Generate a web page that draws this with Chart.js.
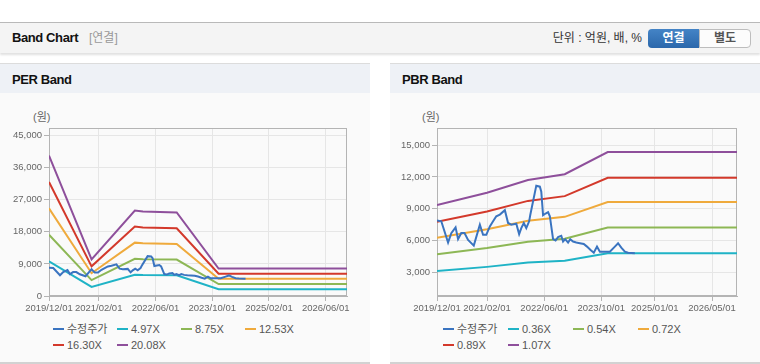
<!DOCTYPE html>
<html lang="ko">
<head>
    <meta charset="UTF-8">
    <title>Band Chart</title>
    <style>
        body {
            margin: 0;
            width: 760px;
            height: 364px;
            position: relative;
            overflow: hidden;
            background: #fff;
            font-family: "Liberation Sans", Arial, "Noto Sans CJK KR", sans-serif;
        }

        #top {
            position: absolute;
            left: 0;
            top: 22px;
            width: 760px;
            height: 30px;
            border-top: 1px solid #b9b9b9;
            background: #f4f4f4;
            box-shadow: 0 2px 2px rgba(0,0,0,0.12);
        }

        #top .title {
            position: absolute;
            left: 12px;
            top: 7px;
            line-height: 16px;
            font-size: 13px;
            font-weight: bold;
            letter-spacing: -0.4px;
            color: #111;
        }

        #top .sub {
            position: absolute;
            left: 89px;
            top: 8px;
            line-height: 15px;
            font-size: 12px;
            color: #999;
        }

        #top .unit {
            position: absolute;
            right: 118px;
            top: 8px;
            line-height: 15px;
            font-size: 12px;
            color: #333;
        }

        .btn {
            position: absolute;
            top: 6px;
            height: 19px;
            line-height: 19px;
            text-align: center;
            font-size: 12px;
            font-weight: bold;
            box-sizing: border-box;
        }

        #btnA {
            left: 648px;
            width: 51px;
            color: #fff;
            background: linear-gradient(#4484c6, #2b67ab);
            border-radius: 4px 0 0 4px;
        }

        #btnB {
            left: 699px;
            width: 52px;
            color: #555;
            background: #fcfcfc;
            border: 1px solid #bdbdbd;
            line-height: 17px;
            border-radius: 0 4px 4px 0;
        }

        .panel {
            position: absolute;
            top: 63px;
            width: 370px;
            height: 301px;
            box-sizing: border-box;
            background: #fafafa;
            border-top: 1px solid #dcdcdc;
            border-bottom: 2px solid #d2d2d2;
        }

        .ptitle {
            height: 29px;
            line-height: 31px;
            padding-left: 12px;
            background: #eef1f6;
            font-size: 13px;
            font-weight: bold;
            letter-spacing: -0.4px;
            color: #111;
        }

        .won {
            position: absolute;
            top: 47px;
            line-height: 13px;
            font-size: 11px;
            color: #666;
        }

        .wrap {
            position: absolute;
            left: 0;
            top: 36px;
            width: 370px;
            height: 220px;
        }

        .legend {
            position: absolute;
            left: 53px;
            top: 257px;
            font-size: 11px;
            line-height: 16px;
            color: #555;
        }

        .legend span {
            display: inline-block;
            white-space: nowrap;
        }

        .legend i {
            display: inline-block;
            width: 11px;
            height: 2px;
            margin-right: 3px;
            vertical-align: middle;
            position: relative;
            top: -1px;
        }
    </style>
    <script src="https://cdn.jsdelivr.net/npm/chart.js@4"></script>
</head>
<body>
    <div id="top">
        <span class="title">Band Chart</span>
        <span class="sub">[연결]</span>
        <span class="unit">단위 : 억원, 배, %</span>
        <span class="btn" id="btnA">연결</span>
        <span class="btn" id="btnB">별도</span>
    </div>

    <div class="panel" style="left:0">
        <div class="ptitle">PER Band</div>
        <span class="won" style="left:33px">(원)</span>
        <div class="wrap"><canvas id="perChart"></canvas></div>
        <div class="legend" id="perLegend"></div>
    </div>

    <div class="panel" style="left:390px">
        <div class="ptitle">PBR Band</div>
        <span class="won" style="left:32px">(원)</span>
        <div class="wrap"><canvas id="pbrChart"></canvas></div>
        <div class="legend" id="pbrLegend"></div>
    </div>

    <script>
        // 수정주가 (두 차트 공통)
        const priceDates = [
            '2019/12/01', '2020/01/07', '2020/03/04', '2020/04/01', '2020/05/07', '2020/05/28',
            '2020/06/25', '2020/07/22', '2020/08/22', '2020/10/10', '2020/12/01', '2020/12/28',
            '2021/01/25', '2021/02/25', '2021/03/22', '2021/04/19', '2021/05/19', '2021/07/01',
            '2021/07/28', '2021/08/25', '2021/10/07', '2021/11/01', '2021/11/19', '2021/12/10',
            '2022/01/01', '2022/01/25', '2022/02/04', '2022/03/25', '2022/04/25', '2022/05/07',
            '2022/05/22', '2022/06/13', '2022/07/04', '2022/07/19', '2022/08/16', '2022/09/07',
            '2022/09/28', '2022/10/25', '2022/11/10', '2022/11/28', '2022/12/22', '2023/01/10',
            '2023/02/04', '2023/03/01', '2023/04/01', '2023/05/04', '2023/06/01', '2023/07/01',
            '2023/07/28', '2023/08/25', '2023/09/19', '2023/12/13', '2024/01/25', '2024/02/22',
            '2024/03/19', '2024/04/19', '2024/05/16', '2024/07/13'
        ];
        const priceValues = [
            7900, 7825, 5825, 6714, 7254, 6143,
            6714, 6714, 6079, 5539, 7508, 6555,
            6555, 7349, 7825, 8302, 8460, 8873,
            7667, 7508, 7603, 6619, 7190, 7667,
            7190, 7825, 8396, 11176, 11082, 10607,
            8396, 8555, 8683, 8302, 6143, 6016,
            6333, 6460, 5920, 6143, 5825, 6143,
            5920, 5825, 5762, 5698, 5444, 5127,
            4873, 5444, 4968, 4968, 5444, 5762,
            5349, 4968, 4873, 4810
        ];

        // PER 밴드
        const perLabels = ['수정주가', '4.97X', '8.75X', '12.53X', '16.30X', '20.08X'];
        const perDates = ['2019/12/01', '2020/12/01', '2021/12/07', '2022/02/15', '2022/12/01', '2023/11/25', '2026/12/01'];
        const per497 = [9746, 2535, 5934, 5865, 5795, 1908, 1908];
        const per875 = [17159, 4463, 10448, 10325, 10203, 3360, 3360];
        const per1253 = [24571, 6390, 14961, 14785, 14610, 4812, 4812];
        const per1630 = [31964, 8313, 19462, 19234, 19006, 6259, 6259];
        const per2008 = [39377, 10241, 23976, 23694, 23413, 7711, 7711];
        const perXTicks = ['2019/12/01', '2021/02/01', '2022/06/01', '2023/10/01', '2025/02/01', '2026/06/01'];
        const perYTicks = [0, 9000, 18000, 27000, 36000, 45000];

        // PBR 밴드
        const pbrLabels = ['수정주가', '0.36X', '0.54X', '0.72X', '0.89X', '1.07X'];
        const pbrDates = ['2019/12/01', '2021/02/01', '2022/01/15', '2022/11/24', '2023/11/25', '2026/12/01'];
        const pbr036 = [3144, 3539, 3941, 4122, 4823, 4823];
        const pbr054 = [4716, 5308, 5912, 6183, 7235, 7235];
        const pbr072 = [6288, 7078, 7883, 8244, 9647, 9647];
        const pbr089 = [7772, 8749, 9744, 10191, 11924, 11924];
        const pbr107 = [9344, 10518, 11714, 12252, 14336, 14336];
        const pbrXTicks = ['2019/12/01', '2021/02/01', '2022/06/01', '2023/10/01', '2025/01/01', '2026/05/01'];
        const pbrYTicks = [3000, 6000, 9000, 12000, 15000];

        const lineColors = ['#3a74c0', '#1fb3c6', '#8db755', '#efaa3c', '#d3392b', '#8e4f9b'];

        Chart.defaults.font.family = '"Liberation Sans", Arial, sans-serif';
        Chart.defaults.font.size = 9.5;
        Chart.defaults.color = '#666';

        // 2019/12/01 기준 개월 수
        const toMonth = s => {
            const [y, m, d] = s.split('/').map(Number);
            return (y - 2019) * 12 + (m - 12) + (d - 1) / 30;
        };

        // 플롯 영역 테두리
        const frame = {
            id: 'frame',
            beforeDatasetsDraw(chart) {
                const { ctx, chartArea: a } = chart;
                ctx.save();
                ctx.strokeStyle = '#b4b4b4';
                ctx.lineWidth = 1;
                ctx.strokeRect(Math.round(a.left) + 0.5, Math.round(a.top) + 0.5,
                    Math.round(a.right - a.left) - 1, Math.round(a.bottom - a.top) - 1);
                ctx.restore();
            }
        };

        function makeBandChart(id, legendId, opt) {
            const datasets = opt.series.map((vals, i) => {
                const dates = i === 0 ? priceDates : opt.bandDates;
                return {
                    label: opt.labels[i],
                    data: vals.map((v, k) => ({ x: toMonth(dates[k]), y: v })),
                    borderColor: lineColors[i],
                    backgroundColor: lineColors[i],
                    borderWidth: 2,
                    pointRadius: 0,
                    tension: 0,
                    fill: false
                };
            });

            new Chart(document.getElementById(id), {
                type: 'line',
                data: { datasets },
                options: {
                    animation: false,
                    responsive: true,
                    maintainAspectRatio: false,
                    layout: { padding: { left: 0, top: 28, right: 23, bottom: 0 } },
                    plugins: {
                        legend: { display: false },
                        tooltip: { enabled: false }
                    },
                    scales: {
                        x: {
                            type: 'linear',
                            min: 0,
                            max: 84,
                            afterBuildTicks: axis => {
                                axis.ticks = opt.xTicks.map(d => ({ value: toMonth(d) }));
                            },
                            afterFit: axis => { axis.height = 24; },
                            ticks: {
                                autoSkip: false,
                                maxRotation: 0,
                                padding: 2,
                                callback: (v, i) => opt.xTicks[i]
                            },
                            grid: { color: '#e6e6e6', tickColor: '#b4b4b4', tickLength: 5 },
                            border: { color: '#b4b4b4' }
                        },
                        y: {
                            min: opt.yMin,
                            max: opt.yMax,
                            afterBuildTicks: axis => {
                                axis.ticks = opt.yTicks.map(v => ({ value: v }));
                            },
                            afterFit: axis => { axis.width = opt.yWidth; },
                            ticks: {
                                padding: 2,
                                callback: v => v.toLocaleString('en-US')
                            },
                            grid: { color: '#e6e6e6', tickColor: '#b4b4b4', tickLength: 5 },
                            border: { color: '#b4b4b4' }
                        }
                    }
                },
                plugins: [frame]
            });

            const box = document.getElementById(legendId);
            box.style.width = (opt.itemWidth * 4) + 'px';
            opt.labels.forEach((lb, i) => {
                const item = document.createElement('span');
                item.style.width = opt.itemWidth + 'px';
                item.innerHTML = '<i style="background:' + lineColors[i] + '"></i>' + lb;
                box.appendChild(item);
            });
        }

        makeBandChart('perChart', 'perLegend', {
            labels: perLabels,
            bandDates: perDates,
            series: [priceValues, per497, per875, per1253, per1630, per2008],
            xTicks: perXTicks,
            yTicks: perYTicks,
            yMin: 0,
            yMax: 47100,
            yWidth: 49,
            itemWidth: 64
        });

        makeBandChart('pbrChart', 'pbrLegend', {
            labels: pbrLabels,
            bandDates: pbrDates,
            series: [priceValues, pbr036, pbr054, pbr072, pbr089, pbr107],
            xTicks: pbrXTicks,
            yTicks: pbrYTicks,
            yMin: 800,
            yMax: 16600,
            yWidth: 47,
            itemWidth: 65
        });
    </script>
</body>
</html>
